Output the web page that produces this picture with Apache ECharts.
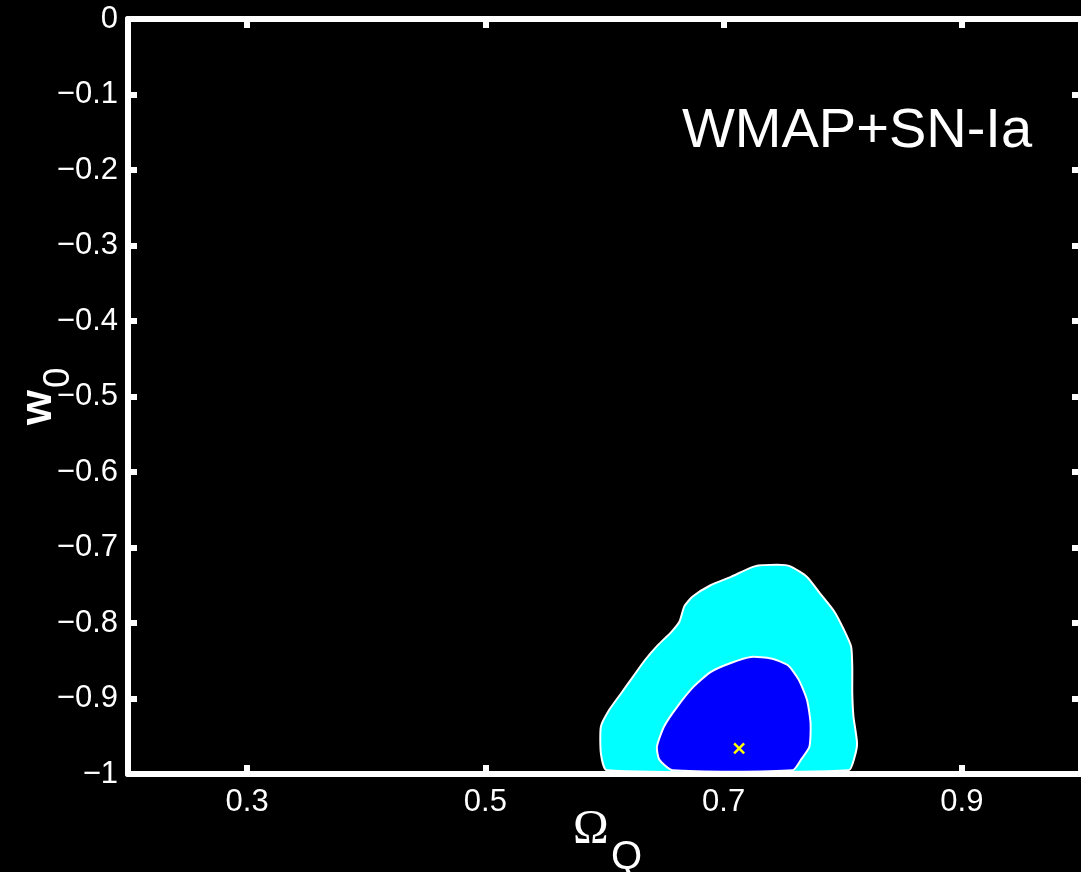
<!DOCTYPE html>
<html>
<head>
<meta charset="utf-8">
<script src="https://cdn.jsdelivr.net/npm/echarts@6/dist/echarts.min.js"></script>
<style>
html,body{margin:0;padding:0;background:#000;}
#chart{width:1081px;height:872px;}
</style>
</head>
<body>
<div id="chart"></div>
<script>
// ---- data ----
const xTickValues = [0.3, 0.5, 0.7, 0.9];
const xRange = [0.2, 1.0];
const yRange = [-1, 0];

// outer (95%) contour, Omega_Q and w0
const outerOmega = [0.602, 0.597, 0.597, 0.604, 0.614, 0.624, 0.634, 0.645, 0.656, 0.663, 0.667, 0.674, 0.689, 0.706, 0.726, 0.745, 0.756, 0.770, 0.781, 0.793, 0.801, 0.807, 0.808, 0.808, 0.809, 0.812, 0.810, 0.805];
const outerW0    = [-0.995, -0.973, -0.937, -0.915, -0.893, -0.871, -0.849, -0.829, -0.812, -0.798, -0.778, -0.765, -0.750, -0.739, -0.725, -0.723, -0.725, -0.739, -0.761, -0.785, -0.809, -0.831, -0.858, -0.893, -0.924, -0.959, -0.977, -0.995];

// inner (68%) contour
const innerOmega = [0.657, 0.646, 0.644, 0.650, 0.661, 0.675, 0.689, 0.706, 0.723, 0.740, 0.754, 0.763, 0.770, 0.773, 0.772, 0.765, 0.758];
const innerW0    = [-0.995, -0.981, -0.964, -0.937, -0.911, -0.884, -0.865, -0.853, -0.845, -0.847, -0.856, -0.875, -0.902, -0.933, -0.964, -0.981, -0.995];

// best fit
const bestOmega = [0.713];
const bestW0 = [-0.966];

const titleText = 'WMAP+SN-Ia';

// ---- chart ----
const chart = echarts.init(document.getElementById('chart'));

function polySeries(xs, ys, fill) {
  const pts = xs.map((x, i) => [x, ys[i]]);
  return {
    type: 'custom',
    coordinateSystem: 'cartesian2d',
    data: pts,
    silent: true,
    renderItem: function (params, api) {
      if (params.dataIndex !== 0) return null;
      const coords = pts.map(p => api.coord(p));
      return {
        type: 'polygon',
        shape: { points: coords, smooth: 0.2 },
        style: { fill: fill, stroke: '#ffffff', lineWidth: 2 }
      };
    }
  };
}

const yFmt = v => {
  const a = parseFloat(Math.abs(v).toFixed(2));
  return a === 0 ? '0' : '\u2212' + a;
};

const axisLineStyle = { color: '#ffffff', width: 6 };
const tickStyle = { color: '#ffffff', width: 6 };
const labelFont = { color: '#ffffff', fontFamily: 'Liberation Sans', fontSize: 31 };

const option = {
  backgroundColor: '#000000',
  animation: false,
  grid: { left: 128, top: 19, width: 956, height: 755, containLabel: false },
  xAxis: [
    {
      type: 'value', position: 'bottom', min: xRange[0], max: xRange[1],
      axisLine: { show: true, onZero: false, lineStyle: axisLineStyle },
      axisTick: { show: true, inside: true, length: 9, lineStyle: tickStyle, customValues: xTickValues },
      axisLabel: Object.assign({ margin: 13, customValues: xTickValues, formatter: v => String(parseFloat(v.toFixed(2))) }, labelFont),
      splitLine: { show: false }
    },
    {
      type: 'value', position: 'top', min: xRange[0], max: xRange[1],
      axisLine: { show: true, onZero: false, lineStyle: axisLineStyle },
      axisTick: { show: true, inside: true, length: 9, lineStyle: tickStyle, customValues: xTickValues },
      axisLabel: { show: false },
      splitLine: { show: false }
    }
  ],
  yAxis: [
    {
      type: 'value', position: 'left', min: yRange[0], max: yRange[1], interval: 0.1,
      axisLine: { show: true, onZero: false, lineStyle: axisLineStyle },
      axisTick: { show: true, inside: true, length: 9, lineStyle: tickStyle },
      axisLabel: Object.assign({ margin: 10, formatter: yFmt }, labelFont),
      splitLine: { show: false }
    },
    {
      type: 'value', position: 'right', min: yRange[0], max: yRange[1], interval: 0.1,
      axisLine: { show: true, onZero: false, lineStyle: axisLineStyle },
      axisTick: { show: true, inside: true, length: 9, lineStyle: tickStyle },
      axisLabel: { show: false },
      splitLine: { show: false }
    }
  ],
  series: [
    polySeries(outerOmega, outerW0, '#00ffff'),
    polySeries(innerOmega, innerW0, '#0000ff'),
    {
      type: 'custom',
      coordinateSystem: 'cartesian2d',
      data: bestOmega.map((x, i) => [x, bestW0[i]]),
      renderItem: function (params, api) {
        const c = api.coord([api.value(0), api.value(1)]);
        const h = 5;
        return {
          type: 'group',
          children: [
            { type: 'line', shape: { x1: c[0] - h, y1: c[1] - h, x2: c[0] + h, y2: c[1] + h }, style: { stroke: '#ffff00', lineWidth: 2.5 } },
            { type: 'line', shape: { x1: c[0] - h, y1: c[1] + h, x2: c[0] + h, y2: c[1] - h }, style: { stroke: '#ffff00', lineWidth: 2.5 } }
          ]
        };
      }
    }
  ],
  graphic: [
    { type: 'text', left: 682, top: 104, style: { text: titleText, fill: '#ffffff', font: '56px "Liberation Sans"' } },
    { type: 'text', left: 573, top: 806, style: { text: '\u03A9', fill: '#ffffff', font: '48px "Liberation Serif"' } },
    { type: 'text', left: 611, top: 838, style: { text: 'Q', fill: '#ffffff', font: '40px "Liberation Sans"' } },
    { type: 'text', x: 16, y: 425, rotation: Math.PI / 2, style: { text: 'w', fill: '#ffffff', font: 'bold 45px "Liberation Sans"' } },
    { type: 'text', x: 40, y: 388, rotation: Math.PI / 2, style: { text: '0', fill: '#ffffff', font: '37px "Liberation Sans"' } }
  ]
};

chart.setOption(option);
</script>
</body>
</html>
